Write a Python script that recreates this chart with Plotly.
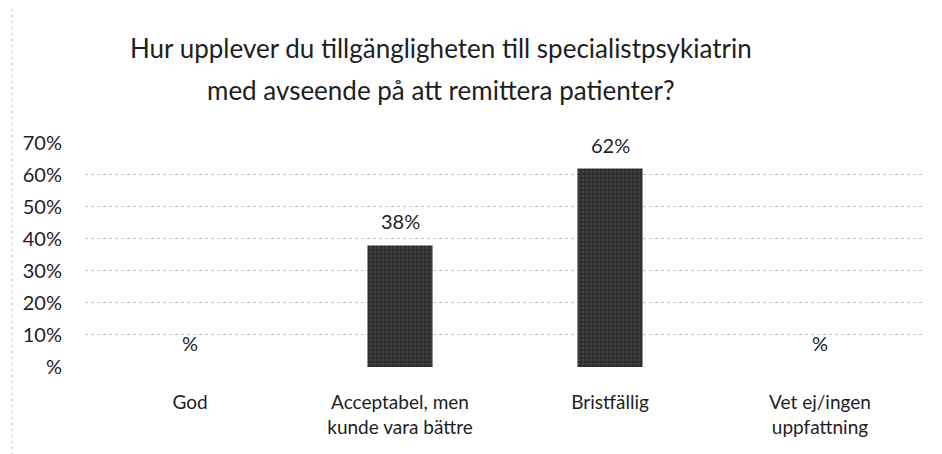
import plotly.graph_objects as go

categories = ["God", "Acceptabel, men<br>kunde vara bättre", "Bristfällig", "Vet ej/ingen<br>uppfattning"]
values = [0, 38, 62, 0]
tick_vals = [0, 10, 20, 30, 40, 50, 60, 70]
tick_text = ["%", "10%", "20%", "30%", "40%", "50%", "60%", "70%"]
bar_labels = [f"{v}%" if v else "%" for v in values]
title_lines = ["Hur upplever du tillgängligheten till specialistpsykiatrin",
               "med avseende på att remittera patienter?"]

FONT = "Lato, Open Sans, sans-serif"
TXT = "#1e1e1e"

fig = go.Figure(go.Bar(
    x=categories, y=values,
    marker=dict(color="#383838", line=dict(width=0),
                pattern=dict(shape=".", fgcolor="#5e5e5e", bgcolor="#2e2e2e", size=4, solidity=0.3)),
    width=0.31, hoverinfo="x+y",
))

for c, v, t in zip(categories, values, bar_labels):
    fig.add_annotation(x=c, y=v, text=t, showarrow=False, yanchor="middle", yshift=24,
                       font=dict(size=20, color=TXT, family=FONT))

for i, line in enumerate(title_lines):
    fig.add_annotation(xref="paper", yref="paper", x=0.4238, y=[1.418, 1.233][i],
                       text=line, showarrow=False, xanchor="center", yanchor="middle",
                       font=dict(size=26, color=TXT, family=FONT))

# faint scan border on the left
fig.add_shape(type="line", xref="paper", yref="paper", x0=-0.087, x1=-0.087, y0=-0.42, y1=1.6,
              line=dict(color="#c8c8c8", width=1, dash="dot"))

fig.update_layout(
    width=942, height=454,
    margin=dict(l=77, r=25, t=134, b=95),
    paper_bgcolor="white", plot_bgcolor="white",
    font=dict(family=FONT, size=19, color=TXT),
    showlegend=False,
)
fig.update_yaxes(range=[0, 70.3], tickvals=tick_vals, ticktext=tick_text,
                 tickfont=dict(size=20),
                 showgrid=True, gridcolor="#c4c4c4", griddash="dot", gridwidth=1,
                 zeroline=False, showline=False, ticks="outside", ticklen=18,
                 tickcolor="rgba(0,0,0,0)")
fig.update_xaxes(showline=False, ticks="outside", ticklen=18, tickcolor="rgba(0,0,0,0)",
                 tickangle=0, tickfont=dict(size=19))

fig.write_html("out.html")
